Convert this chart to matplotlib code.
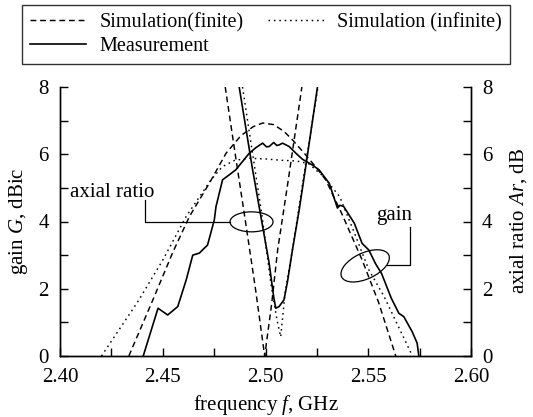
"""gain / axial ratio vs frequency chart"""
import matplotlib
matplotlib.use("Agg")
import matplotlib.pyplot as plt
from matplotlib.lines import Line2D
from matplotlib.patches import Ellipse
from matplotlib.transforms import ScaledTranslation

plt.rcParams["font.family"] = ["Liberation Serif", "DejaVu Serif"]
plt.rcParams["mathtext.fontset"] = "custom"
plt.rcParams["mathtext.rm"] = "Liberation Serif"
plt.rcParams["mathtext.it"] = "Liberation Serif:italic"
plt.rcParams["font.size"] = 15

# gain, simulation (finite ground)
gain_finite_f = [2.4335, 2.4452, 2.455, 2.463, 2.4727, 2.4808, 2.488, 2.494, 2.4987, 2.504, 2.509,
                 2.5131, 2.519, 2.5245, 2.5293, 2.537, 2.547, 2.555, 2.5634]
gain_finite_g = [0, 1.67, 3.1, 4.15, 5.14, 6.03, 6.55, 6.82, 6.93, 6.88, 6.68,
                 6.43, 6.02, 5.62, 5.24, 4.25, 2.86, 1.6, 0]

# gain, simulation (infinite ground)
gain_inf_f = [2.4202, 2.4379, 2.450, 2.4614, 2.4735, 2.479, 2.485, 2.492, 2.500, 2.508, 2.515,
              2.521, 2.528, 2.5361, 2.543, 2.5503, 2.5577, 2.5715]
gain_inf_g = [0, 1.62, 2.85, 4.15, 5.24, 5.63, 5.82, 5.88, 5.86, 5.82, 5.8,
              5.72, 5.35, 4.74, 3.7, 2.56, 1.77, 0]

# gain, measurement
gain_meas_f = [2.4405, 2.4477, 2.4524, 2.4573, 2.4614, 2.4646, 2.4678, 2.4718, 2.4751, 2.4759,
               2.4791, 2.4824, 2.4856, 2.4881, 2.4921, 2.4954, 2.4986, 2.5005, 2.5018, 2.504,
               2.5055, 2.5067, 2.5083, 2.5115, 2.5148, 2.518, 2.5228, 2.526, 2.531, 2.535,
               2.5362, 2.538, 2.5432, 2.547, 2.5503, 2.5535, 2.5565, 2.5612, 2.5649, 2.5673,
               2.5714, 2.5738, 2.5746]
gain_meas_g = [0, 1.42, 1.22, 1.47, 2.26, 3.0, 3.06, 3.3, 4.05, 4.44,
               5.24, 5.39, 5.54, 5.73, 6.03, 6.2, 6.33, 6.22, 6.23, 6.35,
               6.26, 6.28, 6.33, 6.23, 6.03, 5.85, 5.68, 5.54, 5.14, 4.40,
               4.48, 4.45, 3.95, 3.35, 3.15, 2.75, 2.45, 1.72, 1.27, 1.17,
               0.72, 0.38, 0]

# axial ratio curves
ar_finite_f = [2.4804, 2.4854, 2.490, 2.495, 2.4996, 2.503, 2.5059, 2.511, 2.5177]
ar_finite_v = [8, 5.95, 4.1, 2.05, 0, 1.55, 3.15, 5.2, 8]

ar_inf_f = [2.4888, 2.493, 2.498, 2.5026, 2.5055, 2.5074, 2.5095, 2.5135, 2.519, 2.5255]
ar_inf_v = [8, 6.3, 4.3, 2.16, 1.1, 0.57, 1.87, 3.3, 5.5, 8]

ar_meas_f = [2.4872, 2.4937, 2.5018, 2.504, 2.505, 2.5066, 2.509, 2.5107, 2.5131, 2.5164, 2.5195, 2.5253]
ar_meas_v = [8, 5.55, 2.75, 1.75, 1.42, 1.47, 1.67, 2.21, 3.15, 4.35, 5.6, 8]

x_ticks = [2.40, 2.45, 2.50, 2.55, 2.60]
y_ticks = [0, 2, 4, 6, 8]

DASHED = (0, (4, 2.6))
DOTTED = (0, (1.1, 2.6))
LW = 1.05

fig = plt.figure(figsize=(5.33, 4.17), dpi=100)
ax = fig.add_axes([60 / 533, 1 - 356 / 417, 411 / 533, 269 / 417])
ax2 = ax.twinx()

ax.plot(gain_finite_f, gain_finite_g, color="black", lw=LW, ls=DASHED)
ax.plot(gain_inf_f, gain_inf_g, color="black", lw=LW, ls=DOTTED)
ax.plot(gain_meas_f, gain_meas_g, color="black", lw=LW + 0.15, ls="-")

ax2.plot(ar_finite_f, ar_finite_v, color="black", lw=LW, ls=DASHED)
ax2.plot(ar_inf_f, ar_inf_v, color="black", lw=LW, ls=DOTTED)
ax2.plot(ar_meas_f, ar_meas_v, color="black", lw=LW + 0.15, ls="-")

for a in (ax, ax2):
    a.set_xlim(2.40, 2.60)
    a.set_ylim(0, 8)
    a.spines["top"].set_visible(False)
    for s in ("left", "right", "bottom"):
        a.spines[s].set_linewidth(1.0)

ax.set_xticks(x_ticks)
ax.set_xticklabels([f"{v:.2f}" for v in x_ticks])
ax.set_xticks([2.425, 2.475, 2.525, 2.575], minor=True)
ax.set_yticks(y_ticks)
ax.set_yticks([1, 3, 5, 7], minor=True)
ax2.set_yticks(y_ticks)
ax2.set_yticks([1, 3, 5, 7], minor=True)
ax.tick_params(which="both", direction="in", length=6, width=1.0, top=False, right=False)
ax.tick_params(axis="x", pad=9)
ax.tick_params(axis="y", pad=8)
ax2.tick_params(which="both", direction="in", length=6, width=1.0, pad=8)

ax.set_xlabel("frequency $f$, GHz", labelpad=4)
ax.set_ylabel("gain $G$, dBic", labelpad=6)
ax2.set_ylabel("axial ratio $Ar$, dB", labelpad=11)

# annotations (leaders + ellipses)
ax.text(2.4254, 4.73, "axial ratio", ha="center", va="baseline")
ax.plot([2.4414, 2.4414, 2.4829], [4.65, 3.98, 3.98], color="black", lw=0.9)
ax.add_patch(Ellipse((0, 0), 0.43, 0.20, angle=0, fill=False, lw=0.9, ec="black",
                     transform=fig.dpi_scale_trans + ScaledTranslation(2.4932, 3.99, ax.transData)))

ax.text(2.5625, 4.05, "gain", ha="center", va="baseline")
ax.plot([2.5702, 2.5702, 2.5592], [3.84, 2.71, 2.71], color="black", lw=0.9)
ax.add_patch(Ellipse((0, 0), 0.52, 0.26, angle=25, fill=False, lw=0.9, ec="black",
                     transform=fig.dpi_scale_trans + ScaledTranslation(2.5485, 2.68, ax.transData)))

handles = [
    Line2D([], [], color="black", lw=LW, ls=DASHED, label="Simulation(finite)"),
    Line2D([], [], color="black", lw=LW + 0.15, ls="-", label="Measurement"),
    Line2D([], [], color="black", lw=LW, ls=DOTTED, label="Simulation (infinite)"),
]
leg = fig.legend(handles=handles, ncol=2, loc="upper left", bbox_to_anchor=(22 / 533, 1 - 5 / 417),
                 frameon=True, fancybox=False, edgecolor="black", borderaxespad=0,
                 fontsize=14.5, handlelength=2.8, handletextpad=0.65, columnspacing=1.2,
                 labelspacing=0.2, borderpad=0.4)
leg.get_frame().set_linewidth(1.0)

fig.savefig("out.png", dpi=100)
